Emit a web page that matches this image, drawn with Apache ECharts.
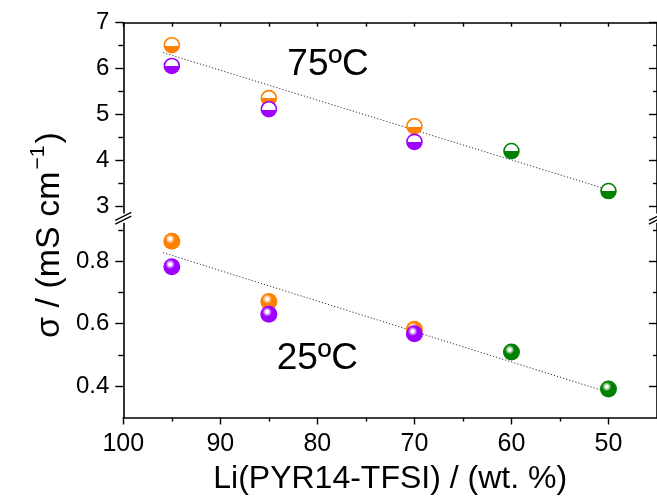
<!DOCTYPE html>
<html>
<head>
<meta charset="utf-8">
<script src="https://cdn.jsdelivr.net/npm/echarts@6/dist/echarts.min.js"></script>
<style>
  html, body { margin: 0; padding: 0; background: #fff; }
  #chart { width: 657px; height: 500px; }
</style>
</head>
<body>
<div id="chart"></div>
<script>
// Composition of each sample group, wt.% of Li(PYR14-TFSI)
const wtOrange = [95, 85, 70];
const wtPurple = [95, 85, 70];
const wtGreen = [60, 50];

// Ionic conductivity at 75 ºC, mS cm-1
const hotOrange = [6.51, 5.36, 4.75];
const hotPurple = [6.06, 5.12, 4.41];
const hotGreen = [4.21, 3.34];

// Ionic conductivity at 25 ºC, mS cm-1
const roomOrange = [0.863, 0.671, 0.582];
const roomPurple = [0.782, 0.630, 0.568];
const roomGreen = [0.509, 0.391];

// Linear trend lines: end points
const trendWt = [95.9, 50.5];
const hotTrend = [6.35, 3.40];
const roomTrend = [0.827, 0.385];

// Tick positions
const xMajorTicks = [50, 60, 70, 80, 90, 100];
const xMinorTicks = [55, 65, 75, 85, 95];
const hotMajorTicks = [3, 4, 5, 6, 7];
const hotMinorTicks = [3.5, 4.5, 5.5, 6.5];
const roomMajorTicks = [0.4, 0.6, 0.8];
const roomMinorTicks = [0.5, 0.7, 0.9];

// Temperature captions and where they sit (wt.%, sigma)
const tempLabels = ['75ºC', '25ºC'];
const tempLabelPos = [[78.9, 6.08], [80.0, 0.489]];

const FONT = '"Liberation Sans", Arial, sans-serif';
const ORANGE = '#ff7f00';
const PURPLE = '#9d00ff';
const GREEN = '#008000';

const X_MIN = 45, X_MAX = 100;
const HOT_MIN = 2.863, HOT_MAX = 7;
const ROOM_MIN = 0.3, ROOM_MAX = 0.92;

const zip = (xs, ys) => xs.map((x, i) => [x, ys[i]]);

// upper half white, lower half coloured
function halfFill(c) {
  return {
    type: 'linear', x: 0, y: 0, x2: 0, y2: 1,
    colorStops: [
      { offset: 0, color: '#ffffff' },
      { offset: 0.52, color: '#ffffff' },
      { offset: 0.52, color: c },
      { offset: 1, color: c }
    ]
  };
}
// glossy ball with a soft highlight towards the upper left
function ball(c) {
  return {
    type: 'radial', x: 0.4, y: 0.36, r: 0.66,
    colorStops: [
      { offset: 0, color: '#ffffff' },
      { offset: 0.12, color: '#ffffff' },
      { offset: 0.42, color: c },
      { offset: 1, color: c }
    ]
  };
}

function xAxisBase(gridIndex) {
  return {
    type: 'value', gridIndex, min: X_MIN, max: X_MAX, inverse: true,
    splitLine: { show: false }
  };
}
function yAxisBase(gridIndex, min, max) {
  return {
    type: 'value', gridIndex, min, max,
    splitLine: { show: false }
  };
}
const AXIS_LINE = { show: true, onZero: false, lineStyle: { color: '#000', width: 1.6 } };
const TICK_STYLE = { color: '#000', width: 1.4 };

const xAxes = [
  // top frame of the upper panel
  Object.assign(xAxisBase(0), {
    position: 'top', axisLine: AXIS_LINE,
    axisTick: { show: true, inside: true, length: 4, lineStyle: TICK_STYLE,
      customValues: xMajorTicks.concat(xMinorTicks) },
    axisLabel: { show: false }
  }),
  // bottom axis with labels
  Object.assign(xAxisBase(1), {
    position: 'bottom', axisLine: AXIS_LINE,
    axisTick: { show: true, inside: false, length: 7, lineStyle: TICK_STYLE, customValues: xMajorTicks },
    axisLabel: { show: true, customValues: xMajorTicks, fontSize: 25, fontFamily: FONT, color: '#000', margin: 14 },
    name: 'Li(PYR14-TFSI) / (wt. %)', nameLocation: 'middle', nameGap: 46,
    nameTextStyle: { fontSize: 32, fontFamily: FONT, color: '#000' }
  }),
  // bottom axis minor ticks
  Object.assign(xAxisBase(1), {
    position: 'bottom', axisLine: { show: false },
    axisTick: { show: true, inside: false, length: 4, lineStyle: TICK_STYLE, customValues: xMinorTicks },
    axisLabel: { show: false }
  })
];

function yAxesFor(gridIndex, min, max, majors, minors) {
  return [
    Object.assign(yAxisBase(gridIndex, min, max), {
      position: 'left', axisLine: AXIS_LINE,
      axisTick: { show: true, inside: false, length: 8, lineStyle: TICK_STYLE, customValues: majors },
      axisLabel: { show: true, customValues: majors, fontSize: 24, fontFamily: FONT, color: '#000', margin: 14 }
    }),
    Object.assign(yAxisBase(gridIndex, min, max), {
      position: 'left', axisLine: { show: false },
      axisTick: { show: true, inside: false, length: 5, lineStyle: TICK_STYLE, customValues: minors },
      axisLabel: { show: false }
    }),
    Object.assign(yAxisBase(gridIndex, min, max), {
      position: 'right', axisLine: AXIS_LINE,
      axisTick: { show: true, inside: true, length: 8, lineStyle: TICK_STYLE, customValues: majors },
      axisLabel: { show: false }
    }),
    Object.assign(yAxisBase(gridIndex, min, max), {
      position: 'right', axisLine: { show: false },
      axisTick: { show: true, inside: true, length: 4, lineStyle: TICK_STYLE, customValues: minors },
      axisLabel: { show: false }
    })
  ];
}
const yAxes = yAxesFor(0, HOT_MIN, HOT_MAX, hotMajorTicks, hotMinorTicks)
  .concat(yAxesFor(1, ROOM_MIN, ROOM_MAX, roomMajorTicks, roomMinorTicks));

function trend(xi, yi, ys) {
  return {
    type: 'line', xAxisIndex: xi, yAxisIndex: yi, data: zip(trendWt, ys),
    showSymbol: false, symbol: 'none', silent: true, z: 1,
    lineStyle: { color: '#333', width: 1, type: [1.2, 2] }
  };
}
function hotSeries(xs, ys, c) {
  return {
    type: 'scatter', xAxisIndex: 0, yAxisIndex: 0, data: zip(xs, ys),
    symbolSize: 15, z: 3, silent: true,
    itemStyle: { color: halfFill(c), borderColor: c, borderWidth: 1.6, opacity: 1 }
  };
}
function roomSeries(xs, ys, c) {
  return {
    type: 'scatter', xAxisIndex: 1, yAxisIndex: 4, data: zip(xs, ys),
    symbolSize: 17, z: 3, silent: true,
    itemStyle: { color: ball(c), opacity: 1 }
  };
}
function caption(xi, yi, pos, text) {
  return {
    type: 'scatter', xAxisIndex: xi, yAxisIndex: yi, data: [pos],
    symbolSize: 1, silent: true, z: 4,
    itemStyle: { color: 'rgba(0,0,0,0)', opacity: 1 },
    label: { show: true, position: 'inside', formatter: text,
      fontSize: 37, fontFamily: FONT, color: '#000', opacity: 1,
      textBorderWidth: 0, textBorderColor: 'transparent' }
  };
}

const chart = echarts.init(document.getElementById('chart'), null, { renderer: 'canvas' });
chart.setOption({
  animation: false,
  backgroundColor: '#fff',
  grid: [
    { left: 123.3, width: 536.2, top: 22.7, height: 190.3 },
    { left: 123.3, width: 536.2, top: 223.5, height: 194 }
  ],
  xAxis: xAxes,
  yAxis: yAxes,
  series: [
    trend(0, 0, hotTrend),
    trend(1, 4, roomTrend),
    hotSeries(wtOrange, hotOrange, ORANGE),
    hotSeries(wtPurple, hotPurple, PURPLE),
    hotSeries(wtGreen, hotGreen, GREEN),
    roomSeries(wtOrange, roomOrange, ORANGE),
    roomSeries(wtPurple, roomPurple, PURPLE),
    roomSeries(wtGreen, roomGreen, GREEN),
    caption(0, 0, tempLabelPos[0], tempLabels[0]),
    caption(1, 4, tempLabelPos[1], tempLabels[1])
  ]
});

// axis break marks and the shared y-axis title
const xLeft = chart.convertToPixel({ xAxisIndex: 1 }, X_MAX);
const xRight = chart.convertToPixel({ xAxisIndex: 1 }, X_MIN);
const yUpperEnd = chart.convertToPixel({ yAxisIndex: 0 }, HOT_MIN);
const yLowerStart = chart.convertToPixel({ yAxisIndex: 4 }, ROOM_MAX);
const yMid = (yUpperEnd + yLowerStart) / 2;
const yTop = chart.convertToPixel({ yAxisIndex: 0 }, HOT_MAX);
const yBottom = chart.convertToPixel({ yAxisIndex: 4 }, ROOM_MIN);

const breakMarks = [];
[xLeft, xRight].forEach(x0 => {
  [-1.8, 1.8].forEach(dy => {
    breakMarks.push({
      type: 'line', silent: true, z: 10,
      shape: { x1: x0 - 8, y1: yMid + dy + 4, x2: x0 + 8, y2: yMid + dy - 4 },
      style: { stroke: '#000', lineWidth: 1.3 }
    });
  });
});

chart.setOption({
  graphic: breakMarks.concat([{
    type: 'text', silent: true,
    x: 47, y: (yTop + yBottom) / 2 + 15, rotation: Math.PI / 2,
    style: {
      text: '{a|σ / (mS cm}{s|−1}{a|)}',
      align: 'center', verticalAlign: 'middle',
      fill: '#000',
      rich: {
        a: { fontSize: 34, fontFamily: FONT, color: '#000', lineHeight: 40, verticalAlign: 'bottom' },
        s: { fontSize: 21, fontFamily: FONT, color: '#000', lineHeight: 22, padding: [0, 2, 18, 2], verticalAlign: 'bottom' }
      }
    }
  }])
});
</script>
</body>
</html>
